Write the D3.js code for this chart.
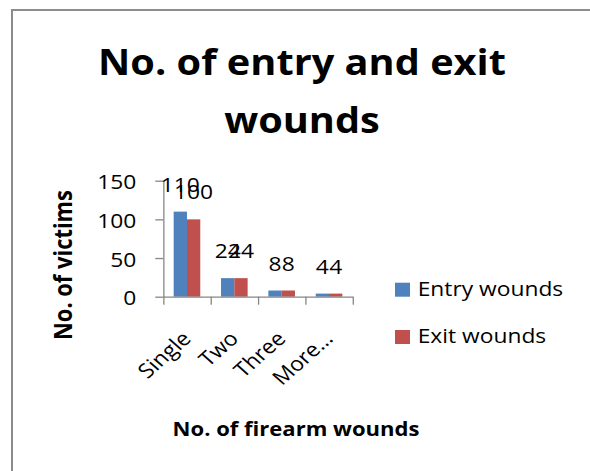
<!DOCTYPE html>
<html>
<head>
<meta charset="utf-8">
<script src="https://cdn.jsdelivr.net/npm/d3@7"></script>
<style>
  html, body { margin: 0; padding: 0; background: #fff; }
  svg { display: block; }
</style>
</head>
<body>
<svg id="chart" width="590" height="471"></svg>
<script>
// ---- data ----
const categories = ["Single", "Two", "Three", "More…"];
const seriesNames = ["Entry wounds", "Exit wounds"];
const entryWounds = [110, 24, 8, 4];
const exitWounds = [100, 24, 8, 4];
const yTicks = [0, 50, 100, 150];
const titleLines = ["No. of entry and exit", "wounds"];
const yTitle = "No. of victims";
const xTitle = "No. of firearm wounds";

const seriesValues = [entryWounds, exitWounds];
const colors = ["#4F81BD", "#C0504D"];
const AXIS = "#868686";
const FONT = "'Open Sans', 'Noto Sans', sans-serif";

const svg = d3.select("#chart");

function measure(text, size, weight) {
  const t = svg.append("text")
    .attr("font-family", FONT).attr("font-size", size)
    .attr("font-weight", weight).text(text);
  const w = t.node().getComputedTextLength();
  t.remove();
  return w;
}

// the chart is drawn in a frame stretched horizontally by k
const k = 1.13;
const X = v => v / k;
const FS = 20 * X(145.6) / measure(seriesNames[0], 20, "normal");

// outer frame
svg.append("path")
  .attr("d", "M12,471V10H590")
  .attr("fill", "none")
  .attr("stroke", "#8c8c8c")
  .attr("stroke-width", 2);

const g = svg.append("g").attr("transform", `scale(${k},1)`);

// ---- title ----
const titleSize = 40 * X(408) / measure(titleLines[0], 40, "bold");
g.append("text")
  .attr("font-family", FONT).attr("font-weight", "bold")
  .attr("font-size", titleSize).attr("text-anchor", "middle")
  .selectAll("tspan").data(titleLines).join("tspan")
  .attr("x", X(302))
  .attr("y", (d, i) => 75 + i * 58.3)
  .text(d => d);

// ---- scales ----
const y = d3.scaleLinear().domain([0, 150]).range([296.7, 180.7]);
const x = d3.scaleBand().domain(categories).range([X(163.3), X(352.7)]);
const x1 = d3.scaleBand().domain(seriesNames).range([0, x.bandwidth()])
  .paddingInner(0).paddingOuter(0.78);
const xb = d3.scaleLinear().domain([0, categories.length]).range(x.range());

// ---- bars ----
const rows = categories.map((c, i) => seriesNames.map((s, j) => ({
  cat: c, series: s, value: seriesValues[j][i], color: colors[j]
}))).flat();

g.append("g").selectAll("rect").data(rows).join("rect")
  .attr("x", d => x(d.cat) + x1(d.series))
  .attr("y", d => y(d.value))
  .attr("width", x1.bandwidth())
  .attr("height", d => y(0) - y(d.value))
  .attr("fill", d => d.color);

// ---- axes ----
function styleAxis(sel) {
  sel.selectAll("path, line")
    .attr("stroke", AXIS)
    .attr("stroke-width", 1.3)
    .attr("vector-effect", "non-scaling-stroke");
  sel.selectAll("text")
    .attr("font-family", FONT)
    .attr("font-size", FS)
    .attr("fill", "#000");
}

const yAxis = g.append("g")
  .attr("transform", `translate(${X(163.3)},0)`)
  .call(d3.axisLeft(y).tickValues(yTicks).tickSize(X(8)).tickSizeOuter(0).tickPadding(X(19)))
  .attr("font-family", null).attr("font-size", null);
yAxis.call(styleAxis);
yAxis.selectAll("text").attr("dy", "0.4em");

const xAxis = g.append("g")
  .attr("transform", `translate(0,${y(0)})`)
  .call(d3.axisBottom(x).tickSize(0).tickSizeOuter(0))
  .attr("font-family", null).attr("font-size", null);
xAxis.call(styleAxis);
xAxis.selectAll("text")
  .attr("x", 0).attr("y", 0).attr("dy", 0)
  .attr("text-anchor", "end")
  .attr("transform", `translate(${X(5.3)},43.3) rotate(-45)`);

const xBounds = g.append("g")
  .attr("transform", `translate(0,${y(0)})`)
  .call(d3.axisBottom(xb).tickValues(d3.range(categories.length + 1))
    .tickFormat("").tickSize(8).tickSizeOuter(0));
xBounds.select(".domain").remove();
xBounds.call(styleAxis);

// ---- data labels ----
g.append("g").selectAll("text").data(rows).join("text")
  .attr("x", d => x(d.cat) + x1(d.series) + x1.bandwidth() / 2)
  .attr("y", d => y(d.value) - 20)
  .attr("text-anchor", "middle")
  .attr("font-family", FONT).attr("font-size", FS)
  .attr("fill", "#000")
  .text(d => d.value);

// ---- axis titles ----
const ySize = 20 * 150 / measure(yTitle, 20, "bold");
g.append("text")
  .attr("transform", `translate(${X(71.5)},265) rotate(-90)`)
  .attr("text-anchor", "middle")
  .attr("font-family", FONT).attr("font-weight", "bold")
  .attr("font-size", ySize)
  .text(yTitle);

const xSize = 20 * X(247) / measure(xTitle, 20, "bold");
g.append("text")
  .attr("x", X(296)).attr("y", 436.3)
  .attr("text-anchor", "middle")
  .attr("font-family", FONT).attr("font-weight", "bold")
  .attr("font-size", xSize)
  .text(xTitle);

// ---- legend ----
const legend = g.append("g").selectAll("g").data(seriesNames).join("g")
  .attr("transform", (d, i) => `translate(0,${i * 47.3})`);
legend.append("rect")
  .attr("x", X(395)).attr("y", 282.7)
  .attr("width", X(15)).attr("height", 14)
  .attr("fill", (d, i) => colors[i]);
legend.append("text")
  .attr("x", X(417.7)).attr("y", 296)
  .attr("font-family", FONT).attr("font-size", FS)
  .attr("fill", "#000")
  .text(d => d);
</script>
</body>
</html>
